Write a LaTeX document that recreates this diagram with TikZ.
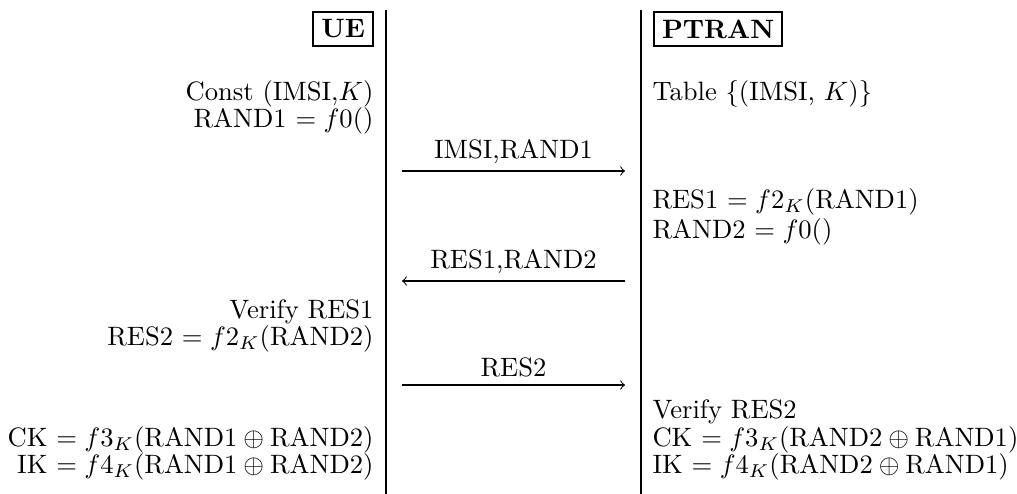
\documentclass[tikz,border=0pt]{standalone}
\begin{document}
\begin{tikzpicture}[x=0.376pt,y=-0.376pt,
  actor/.style={draw,line width=0.8pt,inner sep=3pt,font=\bfseries},
  lifeline/.style={line width=0.8pt},
  msg/.style={->,line width=0.4pt},
  lt/.style={anchor=base east,inner sep=0pt},
  rt/.style={anchor=base west,inner sep=0pt},
  lbl/.style={above,inner sep=0pt,yshift=2.6pt}]
\useasboundingbox (0,0) rectangle (1017,494);
% lifelines
\coordinate (uTop) at (386,10);
\coordinate (uBot) at (386,494);
\coordinate (pTop) at (641,10);
\coordinate (pBot) at (641,494);
\draw[lifeline] (uTop) -- (uBot);
\draw[lifeline] (pTop) -- (pBot);
% actors
\node[actor,anchor=east] (ue) at (374,29) {UE};
\node[actor,anchor=west] (ptran) at (653,29) {PTRAN};
% left column
\node[lt] (l1) at (374,101) {Const (IMSI,$K$)};
\node[lt] (l2) at (374,128) {RAND1 $= f0()$};
\node[lt] (l3) at (374,319) {Verify RES1};
\node[lt] (l4) at (374,346) {RES2 $= f2_K($RAND2$)$};
\node[lt] (l5) at (374,447) {CK $= f3_K(\mathrm{RAND1}\oplus\mathrm{RAND2})$};
\node[lt] (l6) at (374,474) {IK $= f4_K(\mathrm{RAND1}\oplus\mathrm{RAND2})$};
% right column
\node[rt] (r1) at (652,101) {Table $\{($IMSI, $K)\}$};
\node[rt] (r2) at (652,209) {RES1 $= f2_K($RAND1$)$};
\node[rt] (r3) at (652,239) {RAND2 $= f0()$};
\node[rt] (r4) at (652,419) {Verify RES2};
\node[rt] (r5) at (652,447) {CK $= f3_K(\mathrm{RAND2}\oplus\mathrm{RAND1})$};
\node[rt] (r6) at (652,474) {IK $= f4_K(\mathrm{RAND2}\oplus\mathrm{RAND1})$};
% messages
\coordinate (m1a) at (402,171);
\coordinate (m1b) at (625,171);
\coordinate (m2a) at (625,281);
\coordinate (m2b) at (402,281);
\coordinate (m3a) at (402,385);
\coordinate (m3b) at (625,385);
\draw[msg] (m1a) -- node[lbl] (t1) {IMSI,RAND1} (m1b);
\draw[msg] (m2a) -- node[lbl] (t2) {RES1,RAND2} (m2b);
\draw[msg] (m3a) -- node[lbl] (t3) {RES2} (m3b);
\end{tikzpicture}
\end{document}
